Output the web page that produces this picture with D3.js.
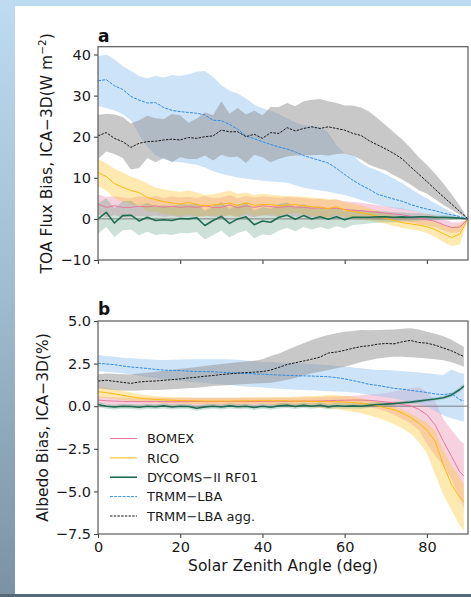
<!DOCTYPE html>
<html><head><meta charset="utf-8">
<script src="https://cdn.jsdelivr.net/npm/d3@7"></script>
<style>html,body{margin:0;padding:0;background:#fff;}svg{display:block;}</style>
</head><body>
<script>
// ---------------- DATA ----------------
const szaA = [0,2,4,6,8,10,12,14,16,18,20,22,24,26,28,30,32,34,36,38,40,42,44,46,48,50,52,54,56,58,60,62,64,66,68,70,72,74,76,78,80,82,84,86,88,90];
const szaB = [0,2,4,6,8,10,12,14,16,18,20,22,24,26,28,30,32,34,36,38,40,42,44,46,48,50,52,54,56,58,60,62,64,66,68,70,72,74,76,78,80,82,84,86,88,89];

const seriesNames = ["BOMEX","RICO","DYCOMS\u2212II RF01","TRMM\u2212LBA","TRMM\u2212LBA agg."];
const yTicksA = [-10,0,10,20,30,40];
const yTicksB = [-7.5,-5.0,-2.5,0.0,2.5,5.0];
const xTicks = [0,20,40,60,80];

// Panel a: TOA flux bias (W m-2)
const bomexA_mean = [3.6,2.8,3.2,2.8,2.8,3.1,2.9,3.2,2.8,3.1,2.8,3.0,2.8,3.2,2.8,2.8,3.4,2.7,3.2,2.8,3.2,3.0,2.8,3.0,2.9,2.8,2.6,2.7,2.5,2.6,2.3,2.1,2.0,1.8,1.6,1.4,1.2,1.0,0.6,0.2,-0.2,-0.6,-1.4,-2.1,-2.0,0.0];
const bomexA_hi   = [6.0,5.3,5.5,5.2,5.1,5.5,5.2,5.6,5.1,5.5,5.2,5.4,5.1,5.6,5.1,5.2,5.8,5.0,5.6,5.2,5.5,5.3,5.1,5.3,5.2,5.1,4.8,4.9,4.6,4.7,4.3,4.1,3.9,3.6,3.4,3.1,2.8,2.6,2.1,1.7,1.2,0.8,0.0,-0.8,-0.9,0.0];
const bomexA_lo   = [1.2,0.4,0.9,0.4,0.5,0.7,0.6,0.8,0.5,0.7,0.4,0.6,0.5,0.8,0.5,0.4,1.0,0.4,0.8,0.4,0.9,0.7,0.5,0.7,0.6,0.5,0.4,0.5,0.4,0.5,0.3,0.1,0.1,0.0,-0.2,-0.3,-0.4,-0.6,-0.9,-1.3,-1.6,-2.0,-2.8,-3.4,-3.2,0.0];

const ricoA_mean = [11.3,10.3,8.6,7.7,6.9,6.4,5.2,4.7,4.2,3.9,3.6,4.0,3.5,3.2,3.4,3.6,3.8,3.3,3.9,3.3,3.5,3.5,3.2,3.4,3.5,3.2,3.0,2.8,2.5,3.0,2.2,1.8,1.5,1.1,0.6,0.1,-0.4,-0.9,-1.2,-1.5,-1.9,-2.6,-3.6,-4.5,-3.7,0.0];
const ricoA_hi   = [14.6,13.6,12.2,11.3,10.3,9.6,8.6,7.6,7.2,6.8,6.6,6.9,6.4,5.8,6.0,6.4,6.9,6.1,6.4,5.8,6.1,5.9,5.7,5.6,5.5,5.4,5.2,5.0,4.8,4.8,4.0,3.6,3.2,2.6,2.0,1.4,0.9,0.4,0.1,-0.2,-0.4,-0.8,-1.4,-2.0,-1.4,0.0];
const ricoA_lo   = [8.0,7.0,5.0,4.1,3.5,3.2,1.8,1.8,1.2,1.0,0.6,1.1,0.6,0.6,0.8,0.8,0.7,0.5,1.4,0.8,0.9,1.1,0.7,1.2,1.5,1.0,0.8,0.6,0.2,1.2,0.4,0.0,-0.2,-0.4,-0.8,-1.2,-1.7,-2.2,-2.5,-2.8,-3.4,-4.4,-5.6,-6.6,-6.2,0.0];

const dycomsA_mean = [0.0,1.6,-1.0,0.8,0.9,-0.5,0.4,-0.4,-0.2,-0.4,0.1,0.0,0.3,-1.6,-0.4,0.6,-1.1,0.0,0.5,-1.4,-0.5,-0.8,0.4,0.9,-0.1,0.8,0.0,0.5,-0.1,0.5,-0.2,0.4,0.4,0.4,0.5,0.5,0.4,0.5,0.4,0.5,0.5,0.4,0.4,0.3,0.2,0.0];
const dycomsA_hi   = [3.8,5.0,2.6,4.3,4.4,3.0,3.9,3.1,3.3,3.1,3.6,3.5,3.8,1.9,3.1,4.1,2.4,3.5,3.9,2.0,2.9,2.5,3.6,4.0,2.9,3.6,2.7,3.1,2.4,2.8,1.9,2.3,2.1,1.9,1.9,1.8,1.6,1.6,1.4,1.4,1.3,1.1,1.0,0.8,0.5,0.0];
const dycomsA_lo   = [-3.6,-2.0,-4.4,-2.8,-2.6,-4.0,-3.1,-3.9,-3.7,-3.9,-3.4,-3.5,-3.2,-5.0,-3.9,-2.9,-4.5,-3.4,-2.8,-4.7,-3.8,-4.0,-2.8,-2.2,-3.0,-2.0,-2.6,-2.0,-2.5,-1.8,-2.3,-1.5,-1.3,-1.1,-0.9,-0.8,-0.8,-0.6,-0.6,-0.4,-0.3,-0.3,-0.2,-0.2,-0.1,0.0];

const trmmA_mean = [33.6,33.9,32.4,31.5,29.8,28.9,28.2,28.3,27.1,26.4,26.1,25.9,25.7,25.3,24.0,23.9,23.0,21.8,20.2,19.5,18.8,18.1,17.5,17.0,16.3,15.4,14.8,14.2,13.6,12.3,10.8,9.4,8.2,7.2,6.0,5.4,4.8,4.3,3.5,2.9,2.4,2.0,1.4,1.0,0.6,0.0];
const trmmA_hi   = [39.5,40.0,38.8,37.2,36.0,34.8,34.2,34.8,34.4,35.0,34.8,35.2,35.8,36.0,34.5,32.5,31.2,30.5,29.3,27.8,26.9,26.3,25.5,24.5,23.5,22.8,22.6,22.3,21.0,18.0,16.0,15.6,13.6,12.5,11.8,10.8,9.8,8.7,7.4,6.1,5.0,3.8,2.7,1.6,0.6,0.0];
const trmmA_lo   = [27.4,27.0,26.4,25.5,24.0,20.5,17.5,15.5,14.5,14.0,13.8,13.5,13.2,12.5,11.6,11.0,10.5,10.1,9.8,9.5,9.3,9.1,9.0,8.8,8.2,7.6,7.2,6.9,6.6,6.2,5.8,5.2,4.6,4.0,3.5,3.0,2.6,2.3,2.0,1.6,1.2,0.9,0.6,0.4,0.2,0.0];

const aggA_mean = [20.2,21.0,19.6,18.8,17.4,18.4,18.8,18.9,19.2,19.4,19.2,19.8,19.6,20.0,20.2,21.6,21.2,21.2,20.0,20.6,19.6,21.0,20.8,22.2,21.4,22.0,22.4,22.0,22.4,22.0,21.6,20.8,20.3,19.0,18.0,17.0,15.9,14.6,12.7,10.9,9.1,7.2,5.4,3.6,1.8,0.0];
const aggA_hi   = [25.3,25.6,25.4,24.8,23.2,24.0,25.1,24.5,24.3,25.5,25.2,23.4,24.4,25.9,25.2,28.6,25.6,27.0,25.4,26.3,25.2,27.2,27.2,28.2,27.4,28.6,29.0,29.2,28.6,28.2,27.6,27.6,27.1,26.1,24.5,22.8,21.0,19.3,17.3,15.0,13.2,11.0,8.6,6.0,3.2,0.0];
const aggA_lo   = [14.6,16.4,15.8,14.8,12.0,12.4,14.8,13.8,14.8,13.8,15.0,14.6,14.6,15.4,14.2,15.6,15.0,15.2,13.6,15.6,15.0,13.8,14.6,15.2,15.4,15.5,15.5,15.6,15.4,15.8,15.9,15.4,14.4,13.2,12.4,11.8,10.6,9.6,8.4,7.0,6.2,4.8,3.4,2.2,1.0,0.0];

// Panel b: albedo bias (%)
const bomexB_mean = [0.36,0.32,0.30,0.28,0.27,0.27,0.27,0.28,0.27,0.26,0.27,0.27,0.28,0.27,0.27,0.28,0.27,0.28,0.28,0.27,0.28,0.28,0.29,0.28,0.29,0.30,0.30,0.31,0.32,0.34,0.35,0.36,0.36,0.34,0.30,0.25,0.20,0.10,0.02,-0.18,-0.50,-1.10,-2.05,-2.95,-3.85,-4.10];
const bomexB_hi   = [0.58,0.54,0.52,0.50,0.49,0.49,0.49,0.50,0.49,0.48,0.49,0.49,0.50,0.49,0.49,0.50,0.49,0.50,0.50,0.49,0.50,0.50,0.51,0.50,0.51,0.52,0.52,0.54,0.56,0.58,0.60,0.62,0.64,0.68,0.72,0.78,0.86,0.95,1.05,1.12,0.85,0.30,-0.75,-1.40,-2.00,-2.20];
const bomexB_lo   = [0.14,0.10,0.08,0.06,0.05,0.05,0.05,0.06,0.05,0.04,0.05,0.05,0.06,0.05,0.05,0.06,0.05,0.06,0.06,0.05,0.06,0.06,0.07,0.06,0.07,0.08,0.08,0.08,0.08,0.10,0.10,0.08,0.02,-0.05,-0.15,-0.30,-0.50,-0.75,-1.00,-1.40,-2.20,-2.90,-3.50,-4.30,-5.40,-6.00];

const ricoB_mean = [0.85,0.80,0.72,0.64,0.56,0.48,0.43,0.40,0.37,0.35,0.33,0.32,0.31,0.30,0.30,0.30,0.30,0.31,0.31,0.32,0.32,0.32,0.32,0.31,0.30,0.30,0.29,0.28,0.27,0.26,0.24,0.22,0.18,0.10,0.02,-0.10,-0.20,-0.40,-0.65,-1.00,-1.40,-2.05,-3.45,-4.60,-5.35,-5.60];
const ricoB_hi   = [1.15,1.10,1.00,0.90,0.80,0.70,0.64,0.60,0.56,0.54,0.52,0.51,0.50,0.50,0.50,0.50,0.50,0.51,0.51,0.52,0.52,0.52,0.53,0.54,0.56,0.58,0.60,0.62,0.66,0.64,0.60,0.56,0.46,0.35,0.27,0.15,0.00,-0.20,-0.42,-0.72,-0.95,-1.45,-2.60,-3.50,-4.20,-4.60];
const ricoB_lo   = [0.50,0.48,0.42,0.36,0.30,0.25,0.22,0.20,0.18,0.16,0.14,0.13,0.12,0.11,0.10,0.10,0.10,0.10,0.10,0.11,0.11,0.09,0.06,0.03,0.00,-0.03,-0.06,-0.09,-0.12,-0.18,-0.25,-0.33,-0.42,-0.55,-0.68,-0.85,-1.05,-1.30,-1.60,-2.10,-2.75,-4.00,-5.20,-6.10,-7.00,-7.30];

const dycomsB_mean = [0.10,0.00,-0.05,0.00,-0.02,-0.06,0.00,-0.03,0.02,-0.05,0.00,-0.02,-0.12,-0.04,0.00,-0.05,0.02,-0.03,0.00,-0.08,0.00,-0.06,0.02,0.05,-0.02,0.05,0.00,0.06,-0.04,0.03,0.00,0.02,0.00,0.05,0.10,0.12,0.15,0.20,0.24,0.30,0.36,0.42,0.50,0.66,0.98,1.18];
const dycomsB_hi   = [0.25,0.15,0.10,0.15,0.13,0.09,0.15,0.12,0.17,0.10,0.15,0.13,0.03,0.11,0.15,0.10,0.17,0.12,0.15,0.07,0.15,0.09,0.17,0.20,0.13,0.20,0.15,0.21,0.11,0.18,0.15,0.17,0.15,0.19,0.23,0.25,0.27,0.31,0.35,0.41,0.47,0.53,0.62,0.80,1.12,1.34];
const dycomsB_lo   = [-0.05,-0.15,-0.20,-0.15,-0.17,-0.21,-0.15,-0.18,-0.13,-0.20,-0.15,-0.17,-0.27,-0.19,-0.15,-0.20,-0.13,-0.18,-0.15,-0.23,-0.15,-0.21,-0.13,-0.10,-0.17,-0.10,-0.15,-0.09,-0.19,-0.12,-0.15,-0.13,-0.15,-0.09,-0.03,-0.01,0.03,0.09,0.13,0.19,0.25,0.31,0.38,0.52,0.84,1.02];

const trmmB_mean = [2.52,2.48,2.44,2.36,2.30,2.26,2.21,2.16,2.12,2.10,2.09,2.06,2.03,2.03,2.02,1.99,1.97,1.95,1.93,1.90,1.87,1.85,1.83,1.81,1.79,1.78,1.77,1.75,1.73,1.68,1.60,1.50,1.40,1.28,1.22,1.14,1.05,1.00,0.93,0.87,0.80,0.72,0.68,0.74,0.38,0.32];
const trmmB_hi   = [3.00,2.95,2.90,2.85,2.81,2.78,2.75,2.72,2.71,2.72,2.74,2.76,2.75,2.75,2.76,2.75,2.74,2.72,2.68,2.65,2.60,2.58,2.56,2.54,2.52,2.50,2.47,2.44,2.42,2.36,2.32,2.27,2.22,2.17,2.12,2.12,2.10,2.05,2.02,1.98,1.93,1.88,1.83,2.16,1.95,1.93];
const trmmB_lo   = [2.05,2.02,1.98,1.93,1.86,1.78,1.70,1.64,1.58,1.52,1.48,1.44,1.40,1.36,1.32,1.28,1.24,1.20,1.16,1.13,1.10,1.06,1.03,1.00,0.97,0.95,0.93,0.90,0.88,0.86,0.85,0.80,0.74,0.66,0.60,0.52,0.45,0.36,0.25,0.12,0.00,-0.30,-0.55,-0.70,-0.85,-0.90];

const aggB_mean = [1.48,1.52,1.46,1.40,1.34,1.42,1.46,1.48,1.52,1.56,1.60,1.66,1.70,1.76,1.80,1.86,1.90,1.94,1.97,2.00,2.03,2.12,2.28,2.45,2.55,2.65,2.76,2.88,3.12,3.18,3.28,3.40,3.50,3.55,3.64,3.68,3.66,3.78,3.86,3.74,3.70,3.58,3.42,3.25,3.02,2.92];
const aggB_hi   = [1.88,1.92,1.90,1.88,1.86,1.92,1.96,2.02,2.08,2.14,2.20,2.24,2.30,2.36,2.42,2.48,2.52,2.58,2.62,2.66,2.75,2.95,3.10,3.30,3.50,3.70,3.88,4.05,4.18,4.28,4.37,4.42,4.47,4.45,4.47,4.48,4.50,4.55,4.57,4.50,4.37,4.25,4.10,3.90,3.62,3.49];
const aggB_lo   = [1.05,1.00,0.95,0.92,0.90,0.92,0.95,0.95,0.97,1.00,1.03,1.05,1.08,1.12,1.18,1.22,1.25,1.28,1.30,1.33,1.34,1.38,1.45,1.55,1.66,1.80,1.93,2.02,2.12,2.22,2.32,2.45,2.60,2.70,2.80,2.86,2.90,2.90,2.88,2.84,2.80,2.76,2.70,2.58,2.42,2.32];

// ---------------- STYLE ----------------
const styles = [
  {line:"#e6799c", fill:"#ec8cb0", fop:0.40, w:1.0, dash:null},
  {line:"#fdb813", fill:"#fcc83a", fop:0.40, w:1.0, dash:null},
  {line:"#1f6b52", fill:"#5a9a80", fop:0.30, w:1.6, dash:null},
  {line:"#2f8ce6", fill:"#9bc7ef", fop:0.50, w:1.0, dash:"3,1.2"},
  {line:"#1a1a1a", fill:"#919191", fop:0.50, w:1.0, dash:"2.5,1.2"}
];
const FONT = "DejaVu Sans";

const panelA = [
  [bomexA_mean,bomexA_lo,bomexA_hi],[ricoA_mean,ricoA_lo,ricoA_hi],[dycomsA_mean,dycomsA_lo,dycomsA_hi],
  [trmmA_mean,trmmA_lo,trmmA_hi],[aggA_mean,aggA_lo,aggA_hi]];
const panelB = [
  [bomexB_mean,bomexB_lo,bomexB_hi],[ricoB_mean,ricoB_lo,ricoB_hi],[dycomsB_mean,dycomsB_lo,dycomsB_hi],
  [trmmB_mean,trmmB_lo,trmmB_hi],[aggB_mean,aggB_lo,aggB_hi]];

// ---------------- DRAW ----------------
const W = 471, H = 597;
const svg = d3.select("body").append("svg").attr("width", W).attr("height", H);
const defs = svg.append("defs");
const bg = defs.append("linearGradient").attr("id","bg").attr("x1",0).attr("y1",0).attr("x2",0).attr("y2",1);
bg.append("stop").attr("offset","0").attr("stop-color","#bddcf1");
bg.append("stop").attr("offset","0.5").attr("stop-color","#9fbbcf");
bg.append("stop").attr("offset","1").attr("stop-color","#7a92a4");
svg.append("rect").attr("width",W).attr("height",H).attr("fill","url(#bg)");
svg.append("rect").attr("x",0).attr("y",594).attr("width",W).attr("height",3).attr("fill","#566a7a");
svg.append("rect").attr("x",15).attr("y",6).attr("width",W-15).attr("height",588).attr("fill","#ffffff");

const left = 98, right = 468;
const x = d3.scaleLinear().domain([0,90]).range([left,right]);
const yA = d3.scaleLinear().domain([-10,41.9]).range([260,46.7]);
const yB = d3.scaleLinear().domain([-7.5,5.0]).range([534,321]);

function drawPanel(id, y, sza, data, ticks, fmt, showX) {
  const top = y.range()[1], bot = y.range()[0];
  defs.append("clipPath").attr("id","clip"+id).append("rect")
    .attr("x",left).attr("y",top).attr("width",right-left).attr("height",bot-top);
  const g = svg.append("g");
  const plot = g.append("g").attr("clip-path","url(#clip"+id+")");
  data.forEach((s,k) => {
    const [m,lo,hi] = s;
    const area = d3.area().x((d,i)=>x(sza[i])).y0((d,i)=>y(lo[i])).y1((d,i)=>y(hi[i]));
    plot.append("path").attr("d", area(m)).attr("fill", styles[k].fill).attr("fill-opacity", styles[k].fop);
  });
  plot.append("line").attr("x1",left).attr("x2",right).attr("y1",y(0)).attr("y2",y(0))
    .attr("stroke","#7f7f7f").attr("stroke-width",1);
  data.forEach((s,k) => {
    const [m] = s;
    const line = d3.line().x((d,i)=>x(sza[i])).y(d=>y(d));
    const p = plot.append("path").attr("d", line(m)).attr("fill","none")
      .attr("stroke", styles[k].line).attr("stroke-width", styles[k].w).attr("stroke-linejoin","round");
    if (styles[k].dash) p.attr("stroke-dasharray", styles[k].dash);
  });
  // axes
  const ay = g.append("g").attr("transform",`translate(${left},0)`)
    .call(d3.axisLeft(y).tickValues(ticks).tickFormat(fmt).tickSize(4).tickPadding(3));
  const ax = g.append("g").attr("transform",`translate(0,${bot})`)
    .call(d3.axisBottom(x).tickValues(xTicks).tickSize(4).tickPadding(4).tickFormat(showX ? d3.format("d") : ()=>""));
  [ay,ax].forEach(a => {
    a.select(".domain").remove();
    a.selectAll(".tick line").attr("stroke","#444").attr("stroke-width",1.1);
    a.selectAll(".tick text").attr("fill","#1a1a1a").style("font-family",FONT).style("font-size","14.5px");
  });
  g.append("rect").attr("x",left).attr("y",top).attr("width",right-left).attr("height",bot-top)
    .attr("fill","none").attr("stroke","#5a5a5a").attr("stroke-width",1.2);
  return g;
}

drawPanel("a", yA, szaA, panelA, yTicksA, d3.format("d"), false);
drawPanel("b", yB, szaB, panelB, yTicksB, d3.format(".1f"), true);

// panel letters
svg.append("text").attr("x",98).attr("y",42).text("a")
  .style("font-family",FONT).style("font-size","17px").style("font-weight","bold").attr("fill","#111");
svg.append("text").attr("x",98).attr("y",315).text("b")
  .style("font-family",FONT).style("font-size","17px").style("font-weight","bold").attr("fill","#111");

// axis labels
const la = svg.append("text").attr("transform",`translate(52,${(46.7+260)/2}) rotate(-90)`)
  .attr("text-anchor","middle").style("font-family",FONT).style("font-size","15.5px").attr("fill","#1a1a1a");
la.append("tspan").text("TOA Flux Bias, ICA\u22123D(W m");
la.append("tspan").text("\u22122").attr("dy",-6).style("font-size","10.5px");
la.append("tspan").text(")").attr("dy",6);

svg.append("text").attr("transform",`translate(48,${(321+534)/2}) rotate(-90)`)
  .attr("text-anchor","middle").style("font-family",FONT).style("font-size","15.5px").attr("fill","#1a1a1a")
  .text("Albedo Bias, ICA\u22123D(%)");

svg.append("text").attr("x",(left+right)/2).attr("y",571).attr("text-anchor","middle")
  .style("font-family",FONT).style("font-size","15.5px").attr("fill","#1a1a1a")
  .text("Solar Zenith Angle (deg)");

// legend
const legY = d3.scalePoint().domain(seriesNames).range([438.5,516]);
const leg = svg.append("g");
seriesNames.forEach((n,k) => {
  const yy = legY(n);
  const l = leg.append("line").attr("x1",110).attr("x2",137).attr("y1",yy).attr("y2",yy)
    .attr("stroke",styles[k].line).attr("stroke-width",styles[k].w);
  if (styles[k].dash) l.attr("stroke-dasharray",styles[k].dash);
  leg.append("text").attr("x",147).attr("y",yy+4.7).text(n)
    .style("font-family",FONT).style("font-size","13px").attr("fill","#1a1a1a");
});
</script>
</body></html>
